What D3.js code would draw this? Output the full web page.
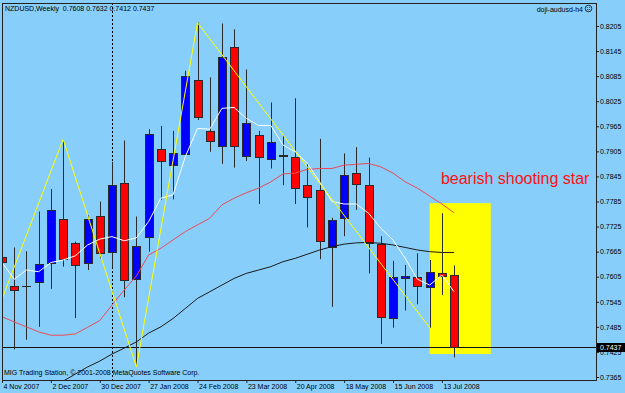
<!DOCTYPE html>
<html>
<head>
<meta charset="utf-8">
<script src="https://cdn.jsdelivr.net/npm/d3@7"></script>
<style>
  html, body { margin: 0; padding: 0; background: #87CEFA; }
  svg { display: block; }
  text { font-family: "Liberation Sans", Arial, sans-serif; }
</style>
</head>
<body>
<svg id="chart" width="625" height="393"></svg>
<script>
// ---------------- DATA ----------------
const symbol = "NZDUSD";
const period = "Weekly";
const weeks = ["4 Nov 2007","11 Nov 2007","18 Nov 2007","25 Nov 2007","2 Dec 2007","9 Dec 2007","16 Dec 2007","23 Dec 2007",
  "30 Dec 2007","6 Jan 2008","13 Jan 2008","20 Jan 2008","27 Jan 2008","3 Feb 2008","10 Feb 2008","17 Feb 2008",
  "24 Feb 2008","2 Mar 2008","9 Mar 2008","16 Mar 2008","23 Mar 2008","30 Mar 2008","6 Apr 2008","13 Apr 2008",
  "20 Apr 2008","27 Apr 2008","4 May 2008","11 May 2008","18 May 2008","25 May 2008","1 Jun 2008","8 Jun 2008",
  "15 Jun 2008","22 Jun 2008","29 Jun 2008","6 Jul 2008","13 Jul 2008","20 Jul 2008"];
const open = [0.7653,0.7583,0.7583,0.7592,0.7639,0.7742,0.7685,0.7639,0.7751,0.7663,
  0.7830,0.7599,0.7701,0.7910,0.7873,0.7898,0.8076,0.7953,0.7919,0.8155,
  0.7894,0.7944,0.7887,0.7897,0.7892,0.7824,0.7813,0.7675,0.7745,0.7854,
  0.7824,0.7683,0.7507,0.7601,0.7604,0.7581,0.7615,0.7608];
const high = [0.7891,0.7675,0.7666,0.7761,0.7815,0.7934,0.7689,0.7752,0.7785,0.7880,
  0.7931,0.7749,0.7958,0.7966,0.7954,0.8098,0.8213,0.8082,0.8211,0.8197,
  0.8101,0.7954,0.8022,0.7944,0.8032,0.7876,0.7935,0.7746,0.7900,0.7915,
  0.7890,0.7702,0.7643,0.7633,0.7661,0.7645,0.7757,0.7632];
const low = [0.7625,0.7431,0.7454,0.7485,0.7576,0.7629,0.7506,0.7621,0.7649,0.7625,
  0.7556,0.7389,0.7665,0.7789,0.7790,0.7896,0.7980,0.7904,0.7875,0.7866,
  0.7882,0.7779,0.7864,0.7824,0.7779,0.7723,0.7647,0.7533,0.7702,0.7765,
  0.7613,0.7444,0.7483,0.7524,0.7539,0.7483,0.7561,0.7412];
const close = [0.7640,0.7573,0.7583,0.7635,0.7765,0.7648,0.7632,0.7744,0.7661,0.7824,
  0.7597,0.7679,0.7947,0.7881,0.7900,0.8086,0.7987,0.7929,0.8132,0.7918,
  0.7972,0.7891,0.7928,0.7895,0.7817,0.7796,0.7691,0.7741,0.7848,0.7827,
  0.7686,0.7508,0.7604,0.7606,0.7583,0.7616,0.7607,0.7437];
const maFast = [0.7639,0.7599,0.7621,0.7617,0.7639,0.7645,0.7655,0.7681,0.7695,0.7701,
  0.7691,0.7698,0.7737,0.7793,0.7801,0.7892,0.7960,0.7958,0.8008,0.8010,
  0.7984,0.7967,0.7967,0.7920,0.7904,0.7876,0.7832,0.7785,0.7779,0.7779,
  0.7757,0.7721,0.7693,0.7649,0.7599,0.7585,0.7609,0.7569];
const maMid = [0.7509,0.7497,0.7485,0.7473,0.7465,0.7465,0.7468,0.7484,0.7500,0.7537,
  0.7573,0.7607,0.7657,0.7673,0.7693,0.7713,0.7729,0.7745,0.7777,0.7793,
  0.7806,0.7817,0.7832,0.7851,0.7853,0.7862,0.7864,0.7864,0.7872,0.7874,
  0.7876,0.7868,0.7853,0.7832,0.7817,0.7798,0.7779,0.7758];
const maSlow = [null,null,null,null,0.7341,0.7355,0.7372,0.7389,0.7403,0.7420,
  0.7434,0.7449,0.7470,0.7485,0.7505,0.7529,0.7553,0.7569,0.7585,0.7601,
  0.7613,0.7621,0.7629,0.7641,0.7649,0.7659,0.7669,0.7677,0.7683,0.7686,
  0.7687,0.7685,0.7681,0.7675,0.7669,0.7665,0.7663,0.7663];
const zigzagBars = [-1, 5, 11, 16, 35];
const zigzagPrices = [0.7475, 0.7934, 0.7389, 0.8213, 0.7483];
const highlightBars = [35, 40];
const highlightPrices = [0.7781, 0.7420];
const separatorBar = 9;
const annotationText = "bearish shooting star";
const annotationBar = 36;
const annotationPrice = 0.7827;
const yTicks = [0.8205,0.8145,0.8085,0.8025,0.7965,0.7905,0.7845,0.7785,0.7725,0.7665,0.7605,0.7545,0.7485,0.7425,0.7365];
const xTickBars = [0,4,8,12,16,20,24,28,32,36];
const xTickLabels = ["4 Nov 2007","2 Dec 2007","30 Dec 2007","27 Jan 2008","24 Feb 2008","23 Mar 2008","20 Apr 2008","18 May 2008","15 Jun 2008","13 Jul 2008"];
const indicatorName = "doji-audusd-h4";
const copyright = "MIG Trading Station, \u00A9 2001-2008 MetaQuotes Software Corp.";

// ---------------- LAYOUT ----------------
const W = 625, H = 393;
const P = { left: 2, top: 3, right: 596, bottom: 380 };
const svg = d3.select("#chart");
svg.append("rect").attr("width", W).attr("height", H).attr("fill", "#87CEFA");

const x = d3.scaleLinear().domain([0, 37]).range([2, 454.1]);
const y = d3.scaleLinear().domain([0.7365, 0.8205]).range([377, 26]);

svg.append("clipPath").attr("id", "plotclip")
  .append("rect").attr("x", P.left).attr("y", P.top)
  .attr("width", P.right - P.left).attr("height", P.bottom - P.top);

const g = svg.append("g").attr("clip-path", "url(#plotclip)");

// highlight rectangle (background object)
g.append("rect")
  .attr("x", x(highlightBars[0]))
  .attr("y", y(highlightPrices[0]))
  .attr("width", x(highlightBars[1]) - x(highlightBars[0]))
  .attr("height", y(highlightPrices[1]) - y(highlightPrices[0]))
  .attr("fill", "#ffff00");

// period separator
g.append("line")
  .attr("x1", Math.round(x(separatorBar)) + 0.5).attr("x2", Math.round(x(separatorBar)) + 0.5)
  .attr("y1", P.top).attr("y2", P.bottom)
  .attr("stroke", "#000").attr("stroke-dasharray", "2,2").attr("stroke-width", 1);

// current price line
const lastClose = close[close.length - 1];
const yLast = Math.round(y(lastClose)) + 0.5;
g.append("line").attr("x1", P.left).attr("x2", P.right).attr("y1", yLast).attr("y2", yLast)
  .attr("stroke", "#111").attr("stroke-width", 1);

// candles
const bars = open.map((o, i) => ({ i, o, h: high[i], l: low[i], c: close[i] }));
const cg = g.append("g");
bars.forEach(d => {
  const cx = Math.round(x(d.i)) + 0.5;
  cg.append("line").attr("x1", cx).attr("x2", cx)
    .attr("y1", y(d.h)).attr("y2", y(d.l))
    .attr("stroke", "#2a2a2a").attr("stroke-width", 1);
  const top = Math.round(y(Math.max(d.o, d.c))) + 0.5;
  const bot = Math.round(y(Math.min(d.o, d.c))) + 0.5;
  const bull = d.c > d.o;
  cg.append("rect")
    .attr("x", cx - 4).attr("width", 8)
    .attr("y", top).attr("height", Math.max(0.01, bot - top))
    .attr("fill", d.c === d.o ? "#222" : (bull ? "#0000ff" : "#ff0000"))
    .attr("stroke", "#2a2a2a").attr("stroke-width", 1);
});

// moving averages
const lineGen = d3.line().defined(d => d != null).x((d, i) => x(i)).y(d => y(d));
g.append("path").datum(maSlow).attr("d", lineGen).attr("fill", "none").attr("stroke", "#1a1a1a").attr("stroke-width", 1);
g.append("path").datum(maMid).attr("d", lineGen).attr("fill", "none").attr("stroke", "#ec4a55").attr("stroke-width", 1);
g.append("path").datum(maFast).attr("d", lineGen).attr("fill", "none").attr("stroke", "#ffffff").attr("stroke-width", 1);

// zigzag
const zz = zigzagBars.map((b, k) => [x(b), y(zigzagPrices[k])]);
g.append("path").attr("d", d3.line()(zz)).attr("fill", "none").attr("stroke", "#ffff00").attr("stroke-width", 1);

// annotation
g.append("text").attr("x", x(annotationBar) - 1).attr("y", y(annotationPrice))
  .attr("fill", "#ff1010").attr("font-size", "16px").text(annotationText);

// border
svg.append("rect").attr("x", P.left + 0.5).attr("y", P.top + 0.5)
  .attr("width", P.right - P.left).attr("height", P.bottom - P.top)
  .attr("fill", "none").attr("stroke", "#222");

// right axis
const yAxis = d3.axisRight(y).tickValues(yTicks).tickSize(3).tickPadding(1).tickFormat(d3.format(".4f"));
const ya = svg.append("g").attr("transform", `translate(${P.right},0)`).call(yAxis);
ya.select(".domain").remove();
ya.selectAll("line").attr("stroke", "#222");
ya.selectAll("text").attr("font-size", "7px").attr("fill", "#000")
  .style("font-family", '"Liberation Sans", Arial, sans-serif');

// bottom axis
const xAxis = d3.axisBottom(x).tickValues(xTickBars).tickSize(3).tickPadding(1).tickFormat((d, i) => xTickLabels[i]);
const xa = svg.append("g").attr("transform", `translate(0,${P.bottom})`).call(xAxis);
xa.select(".domain").remove();
xa.selectAll("line").attr("stroke", "#222");
xa.selectAll("text").attr("font-size", "7px").attr("fill", "#000").attr("text-anchor", "start").attr("x", 1)
  .style("font-family", '"Liberation Sans", Arial, sans-serif');

// current price box
svg.append("rect").attr("x", 597).attr("y", yLast - 4.5).attr("width", 28).attr("height", 9).attr("fill", "#000");
svg.append("text").attr("x", 600).attr("y", yLast).attr("dy", "0.35em")
  .attr("font-size", "7px").attr("fill", "#fff").text(d3.format(".4f")(lastClose));

// title
const fmt = d3.format(".4f");
const li = close.length - 1;
svg.append("text").attr("x", 5).attr("y", 11).attr("font-size", "7px").attr("fill", "#000")
  .style("white-space", "pre")
  .text(`${symbol},${period}  ${fmt(open[li])} ${fmt(high[li])} ${fmt(low[li])} ${fmt(close[li])}`);

// indicator name + smiley
svg.append("text").attr("x", 583).attr("y", 11.5).attr("text-anchor", "end")
  .attr("font-size", "7px").attr("fill", "#000").text(indicatorName);
const sm = svg.append("g").attr("transform", "translate(588.5,8.5)");
sm.append("circle").attr("r", 3.3).attr("fill", "none").attr("stroke", "#222").attr("stroke-width", 0.9);
sm.append("circle").attr("cx", -1.2).attr("cy", -0.9).attr("r", 0.5).attr("fill", "#222");
sm.append("circle").attr("cx", 1.2).attr("cy", -0.9).attr("r", 0.5).attr("fill", "#222");
sm.append("path").attr("d", "M-1.6,0.8 Q0,2.3 1.6,0.8").attr("fill", "none").attr("stroke", "#222").attr("stroke-width", 0.7);

// copyright
svg.append("text").attr("x", 4).attr("y", 375).attr("font-size", "7px").attr("fill", "#000").text(copyright);
</script>
</body>
</html>
